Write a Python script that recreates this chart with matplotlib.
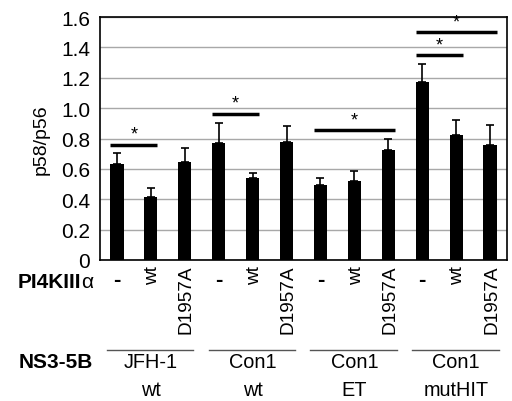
import numpy as np
import matplotlib
matplotlib.use("Agg")
import matplotlib.pyplot as plt

plt.rcParams['font.family'] = ['Liberation Sans', 'DejaVu Sans']

# data
treatments = ["-", "wt", "D1957A"] * 4
groups = ["JFH-1\nwt", "Con1\nwt", "Con1\nET", "Con1\nmutHIT"]
means = [0.63, 0.415, 0.645, 0.77, 0.54, 0.775, 0.495, 0.52, 0.725, 1.175, 0.825, 0.76]
err_top = [0.705, 0.475, 0.74, 0.90, 0.573, 0.885, 0.542, 0.584, 0.80, 1.29, 0.923, 0.89]
# significance brackets: (first bar, last bar, height)
sig = [(0, 1, 0.76), (3, 4, 0.963), (6, 8, 0.856), (9, 10, 1.347), (9, 11, 1.50)]

errs = np.array(err_top) - np.array(means)
x = np.arange(len(means))
w = 0.39

fig = plt.figure(figsize=(5.12, 4.02), dpi=100)
ax = fig.add_axes([100 / 512, 1 - 261 / 402, 407 / 512, 243 / 402])

ax.bar(x, means, width=w, color="black", zorder=3,
       yerr=[np.zeros_like(errs), errs], capsize=3,
       error_kw=dict(ecolor="black", elinewidth=1.2, capthick=1.2))

ax.set_xlim(-0.5, len(means) - 0.5)
ax.set_ylim(0, 1.6)
ax.set_yticks(np.arange(0, 1.61, 0.2))
ax.set_yticklabels(["0"] + [f"{v:.1f}" for v in np.arange(0.2, 1.61, 0.2)], fontsize=15)
ax.set_xticks([])
ax.tick_params(axis="y", length=0, pad=7)
ax.yaxis.grid(True, color="#a8a8a8", linewidth=1, zorder=0)
ax.set_axisbelow(True)
for s in ax.spines.values():
    s.set_linewidth(1.2)
ax.set_ylabel("p58/p56", fontsize=14, labelpad=8)

for a, b, h in sig:
    ax.plot([a - w / 2, b + w / 2], [h, h], color="black", lw=2.5, zorder=4,
            solid_capstyle="butt")
    ax.text((a + b) / 2, h + 0.012, "*", ha="center", va="bottom", fontsize=13)

trans = ax.get_xaxis_transform()
for i, t in enumerate(treatments):
    if t == "-":
        ax.text(i, -0.08, "-", ha="center", va="center", fontsize=16,
                fontweight="bold", transform=trans)
    else:
        ax.text(i + 0.05, -0.02, t, ha="center", va="top", rotation=90,
                fontsize=13.7, transform=trans)

for g, lab in enumerate(groups):
    ax.plot([g * 3 - 0.3, g * 3 + 2.25], [-0.37, -0.37], color="#555555", lw=1,
            transform=trans, clip_on=False)
    ax.text(g * 3 + 1, -0.38, lab, ha="center", va="top", fontsize=14.3,
            linespacing=1.55, transform=trans)

fig.text(81 / 512, 1 - 282 / 402, "PI4KIII", ha="right", va="center",
         fontsize=15, fontweight="bold")
fig.text(81 / 512, 1 - 282 / 402, "α", ha="left", va="center", fontsize=15)
fig.text(93 / 512, 1 - 363 / 402, "NS3-5B", ha="right", va="center",
         fontsize=15, fontweight="bold")

fig.savefig("out.png", dpi=100)
